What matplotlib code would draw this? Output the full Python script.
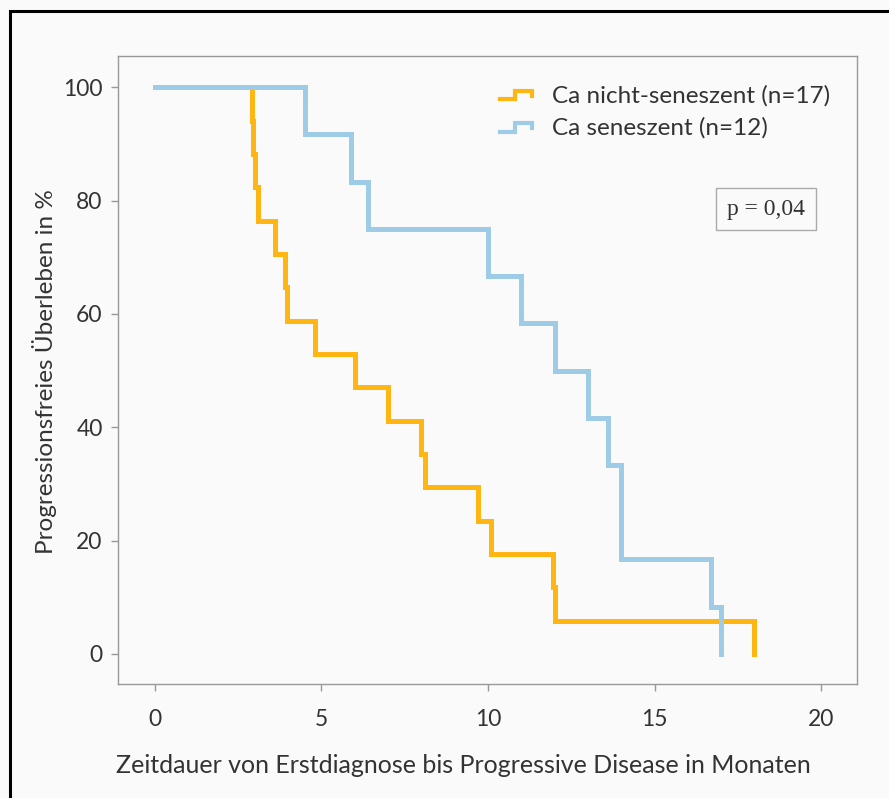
import matplotlib
matplotlib.use('Agg')
import matplotlib.pyplot as plt
from matplotlib.legend_handler import HandlerBase
from matplotlib.lines import Line2D
from matplotlib.patches import Rectangle

# months until progression, one entry per patient (all events, no censoring)
times_non_senescent = [2.9, 2.95, 3.0, 3.1, 3.6, 3.9, 3.95, 4.8, 6.0, 7.0,
                       8.0, 8.1, 9.7, 10.1, 11.95, 12.0, 18.0]
times_senescent = [4.5, 5.9, 6.4, 10.0, 11.0, 12.0, 13.0, 13.6, 14.0, 14.0,
                   16.7, 17.0]

labels = ['Ca nicht-seneszent (n=17)', 'Ca seneszent (n=12)']
x_ticks = [0, 5, 10, 15, 20]
y_ticks = [0, 20, 40, 60, 80, 100]
p_text = 'p = 0,04'

orange = '#FFB612'
blue = '#9ECBE6'
text_col = '#333333'
grey = '#999999'


def km_curve(times):
    # Kaplan-Meier step curve in percent, starting at t=0
    n = len(times)
    xs = [0.0]
    ys = [100.0]
    at_risk = n
    surv = 100.0
    for t in sorted(times):
        surv = surv * (at_risk - 1) / at_risk
        at_risk -= 1
        xs.append(t)
        ys.append(surv)
    return xs, ys


class StepHandler(HandlerBase):
    # legend icon shaped like a small survival step
    def create_artists(self, legend, orig_handle, xdescent, ydescent,
                       width, height, fontsize, trans):
        w, h = width, height
        xs = [0, 0.45 * w, 0.45 * w, 0.95 * w, 0.95 * w]
        ys = [0.2 * h, 0.2 * h, 0.7 * h, 0.7 * h, 0.4 * h]
        line = Line2D([x - xdescent for x in xs], [y - ydescent for y in ys],
                      color=orig_handle.get_color(), lw=3.0,
                      solid_joinstyle='miter', transform=trans)
        return [line]


plt.rcParams['font.family'] = ['Lato', 'DejaVu Sans']

fig = plt.figure(figsize=(8.89, 7.98), dpi=100, facecolor='#FAFAFA')
ax = fig.add_axes([118 / 889, 1 - 684 / 798, 739 / 889, 628 / 798])
ax.set_facecolor('#FAFAFA')

handles = []
for times, col, lab in [(times_non_senescent, orange, labels[0]),
                        (times_senescent, blue, labels[1])]:
    xs, ys = km_curve(times)
    h, = ax.step(xs, ys, where='post', color=col, lw=3.6, label=lab,
                 solid_joinstyle='miter')
    handles.append(h)

ax.set_xlim(-1.11, 21.08)
ax.set_ylim(-5.3, 105.5)
ax.set_xticks(x_ticks)
ax.set_yticks(y_ticks)
ax.tick_params(direction='out', length=5, width=1, color=grey,
               labelsize=16.5, labelcolor=text_col, pad=6)
ax.tick_params(axis='x', pad=13)
for sp in ax.spines.values():
    sp.set_color(grey)
    sp.set_linewidth(1)

ax.set_xlabel('Zeitdauer von Erstdiagnose bis Progressive Disease in Monaten',
              fontsize=18, color=text_col, va='center')
ax.xaxis.set_label_coords(0.467, -0.129)
ax.set_ylabel('Progressionsfreies Überleben in %', fontsize=17.5,
              color=text_col, va='center')
ax.yaxis.set_label_coords(-0.099, 0.497)

leg = ax.legend(handles=handles, handler_map={Line2D: StepHandler()},
                loc='upper left', bbox_to_anchor=(500 / 889, 1 - 85 / 798),
                bbox_transform=fig.transFigure, frameon=False,
                fontsize=17.5, handlelength=1.4, handletextpad=0.75,
                labelspacing=0.45, borderpad=0, borderaxespad=0)
for t in leg.get_texts():
    t.set_color(text_col)

fig.text(766 / 889, 1 - 209 / 798, p_text, family='Liberation Serif',
         fontsize=17, color=text_col, ha='center', va='center',
         bbox=dict(boxstyle='square,pad=0.45', fc='#FAFAFA', ec='#AAAAAA',
                   lw=1))

# black frame around the figure, running off the right and bottom edges
fig.add_artist(Rectangle((10 / 889, -0.05), 1.0, 1 - 11 / 798 + 0.05,
                         transform=fig.transFigure, fill=False,
                         ec='black', lw=2.2, clip_on=False))

fig.savefig('out.png', dpi=100, facecolor=fig.get_facecolor())
